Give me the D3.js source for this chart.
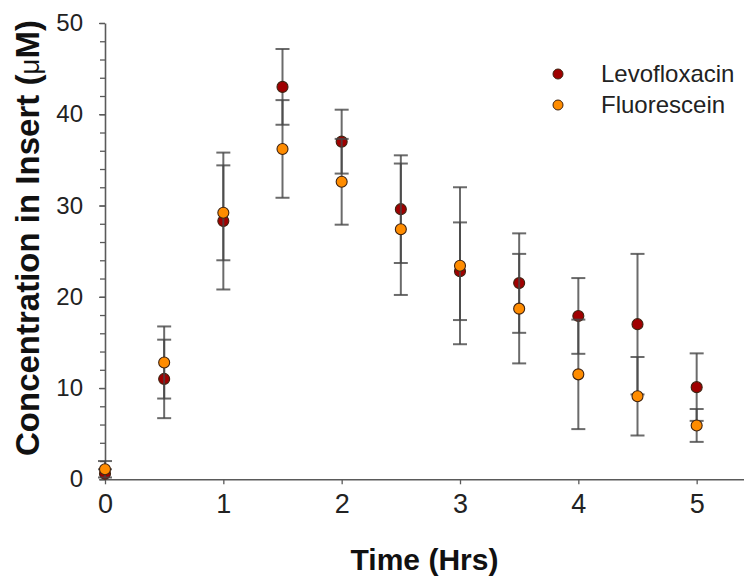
<!DOCTYPE html>
<html>
<head>
<meta charset="utf-8">
<script src="https://cdn.jsdelivr.net/npm/d3@7"></script>
<style>
  html, body { margin: 0; padding: 0; background: #fff; }
  svg { display: block; font-family: 'Liberation Sans', Arial, sans-serif; }
</style>
</head>
<body>
<div id="chart"></div>
<script>
// datos
const times = [0, 0.5, 1, 1.5, 2, 2.5, 3, 3.5, 4, 4.5, 5];
const levoMean = [0.6, 11.0, 28.3, 43.0, 37.0, 29.6, 22.8, 21.5, 17.9, 17.0, 10.1];
const levoErr = [0.5, 4.3, 7.5, 4.15, 3.5, 5.9, 5.35, 5.45, 4.15, 7.7, 3.7];
const fluoMean = [1.1, 12.8, 29.2, 36.2, 32.6, 27.4, 23.4, 18.7, 11.5, 9.1, 5.9];
const fluoErr = [0.9, 3.95, 5.2, 5.35, 4.7, 7.2, 8.6, 6.0, 6.0, 4.3, 1.8];
const xTicks = [0, 1, 2, 3, 4, 5];
const yTicks = [0, 10, 20, 30, 40, 50];
const yMinorTicks = d3.range(0, 51, 2);
const seriesNames = ['Levofloxacin', 'Fluorescein'];

//Colores
const COLOR_LEVO = '#a00000',
    COLOR_FLUO = '#ff8c00',
    COLOR_AXIS = '#5a5a5a',
    COLOR_BAR = 'rgba(70,70,70,0.8)',
    COLOR_STROKE = '#3e2210';

const width = 744, height = 577;
const x0 = 105, x1 = 744, y0 = 479.3, y1 = 23;

const svg = d3.select('#chart').append('svg')
    .attr('width', width)
    .attr('height', height);

const x = d3.scaleLinear().domain([0, 5.4]).range([x0, x1]);
const y = d3.scaleLinear().domain([0, 50]).range([y0, y1]);

// eje y: ticks menores
svg.append('g')
    .attr('transform', 'translate(' + x0 + ',0)')
    .call(d3.axisLeft(y).tickValues(yMinorTicks).tickSize(5).tickFormat(''))
    .call(g => g.select('.domain').remove())
    .selectAll('line').attr('stroke', COLOR_AXIS).attr('stroke-width', 1.3);

// eje y principal
const yAxis = svg.append('g')
    .attr('transform', 'translate(' + x0 + ',0)')
    .call(d3.axisLeft(y).tickValues(yTicks).tickSizeInner(6).tickSizeOuter(0).tickPadding(16));
yAxis.select('.domain').attr('stroke', COLOR_AXIS).attr('stroke-width', 1.6);
yAxis.selectAll('line').attr('stroke', COLOR_AXIS).attr('stroke-width', 1.3);
yAxis.selectAll('text')
    .attr('font-size', 24)
    .attr('fill', '#222')
    .attr('font-family', "'Liberation Sans', Arial, sans-serif");

// eje x
const xAxis = svg.append('g')
    .attr('transform', 'translate(0,' + y0 + ')')
    .call(d3.axisBottom(x).tickValues(xTicks).tickSizeInner(5).tickSizeOuter(0).tickPadding(10).tickFormat(d3.format('d')));
xAxis.select('.domain').attr('stroke', COLOR_AXIS).attr('stroke-width', 1.6);
xAxis.selectAll('line').attr('stroke', COLOR_AXIS).attr('stroke-width', 1.3);
xAxis.selectAll('text')
    .attr('font-size', 27)
    .attr('fill', '#222')
    .attr('font-family', "'Liberation Sans', Arial, sans-serif");

// titulos de ejes
svg.append('text')
    .attr('x', (x0 + x1) / 2)
    .attr('y', 570)
    .attr('text-anchor', 'middle')
    .attr('font-size', 30)
    .attr('font-weight', 'bold')
    .attr('fill', '#111')
    .text('Time (Hrs)');

const yTitle = svg.append('text')
    .attr('transform', 'translate(39,238) rotate(-90)')
    .attr('text-anchor', 'middle')
    .attr('font-size', 33)
    .attr('font-weight', 'bold')
    .attr('fill', '#111');
yTitle.append('tspan').text('Concentration in Insert (');
yTitle.append('tspan').attr('font-weight', 'normal').attr('font-size', 28).text('μ');
yTitle.append('tspan').text('M)');

// series: barras de error y puntos
const series = [
    { name: seriesNames[0], mean: levoMean, err: levoErr, color: COLOR_LEVO },
    { name: seriesNames[1], mean: fluoMean, err: fluoErr, color: COLOR_FLUO }
];

const capW = 7;

series.forEach(function(s) {
    let rows = times.map(function(t, i) { return { t: t, m: s.mean[i], e: s.err[i] }; });
    let g = svg.append('g');

    g.selectAll('line.bar')
        .data(rows)
        .enter()
        .append('line')
        .attr('x1', d => x(d.t)).attr('x2', d => x(d.t))
        .attr('y1', d => y(d.m + d.e)).attr('y2', d => y(Math.max(0, d.m - d.e)))
        .attr('stroke', COLOR_BAR)
        .attr('stroke-width', 2);

    g.selectAll('line.capTop')
        .data(rows)
        .enter()
        .append('line')
        .attr('x1', d => x(d.t) - capW).attr('x2', d => x(d.t) + capW)
        .attr('y1', d => y(d.m + d.e)).attr('y2', d => y(d.m + d.e))
        .attr('stroke', COLOR_BAR)
        .attr('stroke-width', 2);

    g.selectAll('line.capBottom')
        .data(rows.filter(d => d.m - d.e > 0.2))
        .enter()
        .append('line')
        .attr('x1', d => x(d.t) - capW).attr('x2', d => x(d.t) + capW)
        .attr('y1', d => y(d.m - d.e)).attr('y2', d => y(d.m - d.e))
        .attr('stroke', COLOR_BAR)
        .attr('stroke-width', 2);

    g.selectAll('circle')
        .data(rows)
        .enter()
        .append('circle')
        .attr('cx', d => x(d.t))
        .attr('cy', d => y(d.m))
        .attr('r', 5.5)
        .attr('fill', s.color)
        .attr('stroke', COLOR_STROKE)
        .attr('stroke-width', 1.1);
});

// leyenda
const legend = svg.append('g').attr('transform', 'translate(558,74)');
series.forEach(function(s, i) {
    legend.append('circle')
        .attr('cx', 0).attr('cy', i * 31)
        .attr('r', 5)
        .attr('fill', s.color)
        .attr('stroke', COLOR_STROKE)
        .attr('stroke-width', 1);
    legend.append('text')
        .attr('x', 43).attr('y', i * 31)
        .attr('dy', '0.35em')
        .attr('font-size', 24)
        .attr('fill', '#222')
        .text(s.name);
});
</script>
</body>
</html>
